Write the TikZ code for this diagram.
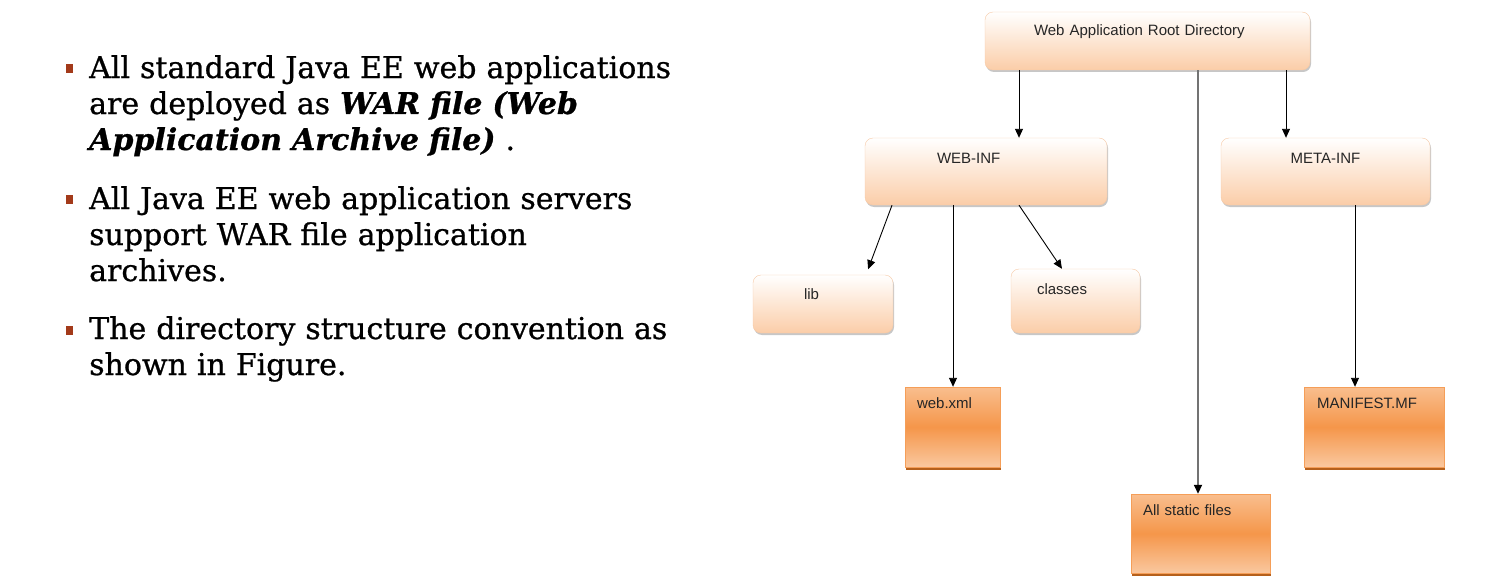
\documentclass[tikz,border=0pt]{standalone}
\usepackage{fontspec}
\setmainfont{DejaVu Serif}
\newfontfamily\boxfont{Liberation Sans}
\newfontfamily\parafont[FakeBold=0.8]{DejaVu Serif}
\usepackage{tikz}
\usetikzlibrary{positioning,arrows.meta,shadows,calc}
\definecolor{peach}{HTML}{FBCDA8}
\definecolor{peachline}{HTML}{F6C9A5}
\definecolor{orlight}{HTML}{F9BE8E}
\definecolor{ormid}{HTML}{F5964A}
\definecolor{orline}{HTML}{F59E58}
\definecolor{orshadow}{HTML}{B5601C}
\definecolor{bulred}{HTML}{A33A1A}
\tikzset{
  dirbox/.style  = {draw=peachline, rounded corners=8pt, top color=white, bottom color=peach,
                    inner ysep=0pt, align=left, text=black!85, font=\boxfont\fontsize{15}{18}\selectfont,
                    drop shadow={shadow xshift=1pt, shadow yshift=-2pt, fill=black, opacity=0.22}},
  filebox/.style = {draw=orline, top color=orlight, bottom color=orlight!85, middle color=ormid,
                    inner ysep=0pt, align=left, text=black!85, font=\boxfont\fontsize{15}{18}\selectfont,
                    drop shadow={shadow xshift=1pt, shadow yshift=-3pt, fill=orshadow, opacity=1}},
  bul/.style     = {fill=bulred, minimum width=6.5pt, minimum height=9pt, inner sep=0pt},
  para/.style    = {anchor=base west, inner sep=0pt, text width=610pt, align=left,
                    font=\parafont\fontsize{30}{36}\selectfont},
  arrow/.style   = {-{Triangle[length=9pt,width=8pt,black]}, line width=0.9pt},
}
\begin{document}
\begin{tikzpicture}[x=1pt, y=-1pt]
  \useasboundingbox (0,0) rectangle (1507,586);
  \node[bul] (b1) at (69.5,69) {};
  \node[para] (p1) at (89,78) {All standard Java EE web applications\\
    are deployed as {\bfseries\itshape WAR file (Web}\\
    {\bfseries\itshape Application Archive file)} .};
  \node[bul] (b2) at (69.5,199.5) {};
  \node[para] (p2) at (89,209) {All Java EE web application servers\\
    support WAR file application\\
    archives.};
  \node[bul] (b3) at (69.5,330.5) {};
  \node[para] (p3) at (89,339) {The directory structure convention as\\
    shown in Figure.};

  \node[dirbox, minimum width=325pt, minimum height=58pt, text width=227pt, inner xsep=49pt,
        text height=24pt, text depth=34pt] (root) at (1147.5,41) {Web Application Root Directory};
  \node[dirbox, minimum width=242pt, minimum height=67pt, text width=98pt, inner xsep=72pt,
        text height=25pt, text depth=42pt] (webinf) at (986,171.5) {WEB-INF};
  \node[dirbox, minimum width=209pt, minimum height=67pt, text width=209pt, inner xsep=0pt, align=center,
        text height=25pt, text depth=42pt] (metainf) at (1325.5,171.5) {META-INF};
  \node[dirbox, minimum width=140pt, minimum height=58pt, text width=38pt, inner xsep=51pt,
        text height=24pt, text depth=34pt] (lib) at (823,304) {lib};
  \node[dirbox, minimum width=129pt, minimum height=64pt, text width=77pt, inner xsep=26pt,
        text height=25pt, text depth=39pt] (classes) at (1075.5,301) {classes};
  \node[filebox, minimum width=95pt, minimum height=80pt, text width=71pt, inner xsep=12pt,
        text height=21pt, text depth=59pt] (webxml) at (952.5,427) {web.xml};
  \node[filebox, minimum width=140pt, minimum height=80pt, text width=114pt, inner xsep=13pt,
        text height=21pt, text depth=59pt] (manifest) at (1374,427) {MANIFEST.MF};
  \node[filebox, minimum width=139pt, minimum height=79pt, text width=115pt, inner xsep=12pt,
        text height=21pt, text depth=58pt] (static) at (1200.5,533.5) {All static files};

  \draw[arrow] (root.south -| 1019,0) -- (webinf.north -| 1019,0);
  \draw[arrow] (root.south -| 1286,0) -- (metainf.north -| 1286,0);
  \draw[arrow, draw=black!55, line width=1.6pt] (root.south -| 1198,0) -- (static.north -| 1198,0);
  \draw[arrow, shorten >=6pt] (webinf.south -| 892,0) -- (lib.north -| 866,0);
  \draw[arrow] (webinf.south -| 953,0) -- (webxml.north -| 953,0);
  \draw[arrow] (webinf.south -| 1019,0) -- (classes.north -| 1062,0);
  \draw[arrow] (metainf.south -| 1355,0) -- (manifest.north -| 1355,0);
\end{tikzpicture}
\end{document}
